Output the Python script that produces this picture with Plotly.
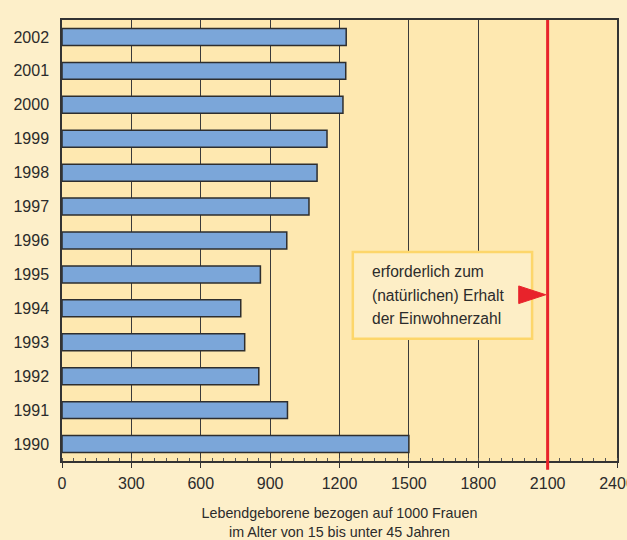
import plotly.graph_objects as go

# Lebendgeborene je 1000 Frauen (15 bis unter 45 Jahre)
jahre = ["1990", "1991", "1992", "1993", "1994", "1995", "1996",
         "1997", "1998", "1999", "2000", "2001", "2002"]
werte = [1500, 975, 851, 790, 773, 858, 972, 1068, 1103, 1146, 1215, 1227, 1229]

bestandserhalt = 2100
x_ticks = [0, 300, 600, 900, 1200, 1500, 1800, 2100, 2400]
box_zeilen = ["erforderlich zum", "(natürlichen) Erhalt", "der Einwohnerzahl"]

FONT = "Liberation Sans, Arial, Helvetica, sans-serif"
TXT = "#2b2b2b"

fig = go.Figure()
fig.add_trace(go.Bar(
    x=werte, y=jahre, orientation="h", width=0.5,
    marker=dict(color="#7ba6d9", line=dict(color="#2e2e2e", width=1.5)),
    hoverinfo="x+y"
))

# rote Linie: Bestandserhaltungsniveau
fig.add_shape(type="line", xref="x", yref="paper",
              x0=bestandserhalt, x1=bestandserhalt, y0=-0.02, y1=1,
              line=dict(color="#e8232b", width=3), layer="above")

# Erklärungskasten
fig.add_shape(type="rect", xref="paper", yref="paper",
              x0=0.524, x1=0.847, y0=0.277, y1=0.474,
              fillcolor="#fdeec6", line=dict(color="#fdd66a", width=2.5),
              layer="above")
for i, zeile in enumerate(box_zeilen):
    fig.add_annotation(text=zeile, xref="paper", yref="paper",
                       x=0.555, y=0.429 - i * 0.0535,
                       xanchor="left", yanchor="middle", showarrow=False,
                       font=dict(family=FONT, size=15.6, color=TXT))

# roter Pfeil
fig.add_shape(type="path", xref="x", yref="paper",
              path=f"M {bestandserhalt - 125} 0.357 L {bestandserhalt - 8} 0.377 L {bestandserhalt - 125} 0.397 Z",
              fillcolor="#e8232b", line=dict(color="#e8232b", width=1),
              layer="above")

fig.update_layout(
    width=627, height=540,
    margin=dict(l=62, r=10, t=20, b=79),
    paper_bgcolor="#fdefc9",
    plot_bgcolor="#fee8b0",
    showlegend=False,
    bargap=0.5,
    font=dict(family=FONT, size=16, color=TXT),
    xaxis=dict(
        range=[0, 2400], tickvals=x_ticks, automargin=False,
        ticklabeloverflow="allow",
        showgrid=True, gridcolor="#3a3a3a", gridwidth=1,
        zeroline=False, showline=True, linecolor="#333333", linewidth=1.5,
        mirror=True, ticks="outside", ticklen=5, tickcolor="#333333",
        minor=dict(dtick=50, ticks="inside", ticklen=3, tickcolor="#555555", showgrid=False),
        tickfont=dict(size=16), ticklabelstandoff=2,
        title=dict(text="Lebendgeborene bezogen auf 1000 Frauen<br>im Alter von 15 bis unter 45 Jahren",
                   font=dict(size=14.3), standoff=24),
    ),
    yaxis=dict(
        type="category", categoryorder="array", categoryarray=jahre,
        range=[-0.5, 12.5], showgrid=False, zeroline=False, automargin=False,
        showline=True, linecolor="#333333", linewidth=1.5, mirror=True,
        ticks="", ticklabelstandoff=8, tickfont=dict(size=16),
    ),
)

fig.write_html(
    "out.html",
    config={"displayModeBar": False},
    post_script="document.body.style.margin='0';document.body.style.background='#fdefc9';",
)
